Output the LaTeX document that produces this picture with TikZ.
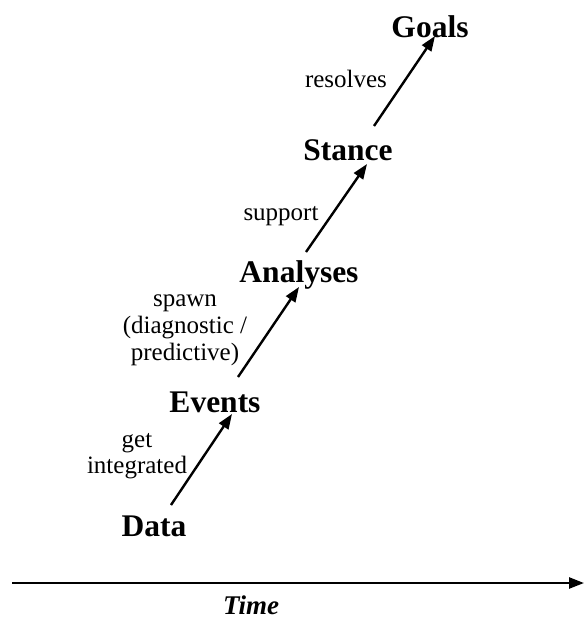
\documentclass[tikz,border=0pt]{standalone}
\usepackage{fontspec}
\setmainfont{Liberation Serif}
\usetikzlibrary{arrows.meta}
\begin{document}
\begin{tikzpicture}[x=1pt,y=-1pt,
  stage/.style={font=\bfseries\fontsize{31.5}{34}\selectfont, inner sep=0pt, anchor=base},
  lbl/.style={font=\fontsize{25}{27}\selectfont, inner sep=0pt, align=center},
  conn/.style={line width=2.4pt, -{Triangle[length=15pt,width=11pt]}}]
\useasboundingbox (0,0) rectangle (584,621);
\node[stage] (Goals) at (430,37) {Goals};
\node[stage] (Stance) at (348,160) {Stance};
\node[stage] (Analyses) at (299,282) {Analyses};
\node[stage] (Events) at (215,412) {Events};
\node[stage] (Data) at (154,536) {Data};
% arrow end points
\coordinate (d1) at (171,505); \coordinate (e0) at (232,414);
\coordinate (e1) at (238,377); \coordinate (a0) at (299,287);
\coordinate (a1) at (306,252); \coordinate (s0) at (367,164);
\coordinate (s1) at (374,126); \coordinate (g0) at (435,36);
\draw[conn] (d1) -- (e0);
\draw[conn] (e1) -- (a0);
\draw[conn] (a1) -- (s0);
\draw[conn] (s1) -- (g0);
\node[lbl, font=\fontsize{25}{26}\selectfont] (l1) at (137,456) {get\\integrated};
\node[lbl] (l2) at (185,330) {spawn\\(diagnostic /\\predictive)};
\node[lbl, anchor=base] (l3) at (281,220) {support};
\node[lbl, anchor=base] (l4) at (346,87) {resolves};
% time axis
\coordinate (t0) at (12,583); \coordinate (t1) at (584,583);
\draw[line width=2.4pt, -{Triangle[length=15pt,width=11pt]}] (t0) -- (t1);
\node[font=\bfseries\itshape\fontsize{27}{30}\selectfont, inner sep=0pt, anchor=base] (Time) at (251,614) {Time};
\end{tikzpicture}
\end{document}
